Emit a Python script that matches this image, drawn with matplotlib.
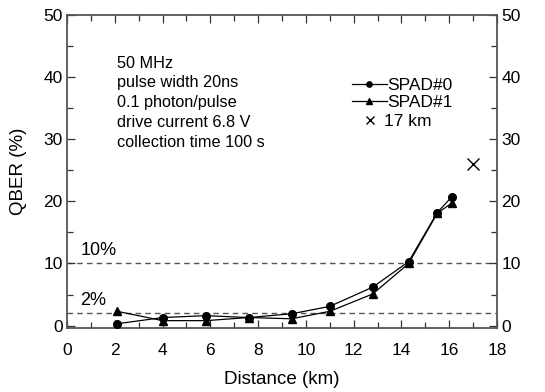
import matplotlib
matplotlib.use("Agg")
import matplotlib.pyplot as plt
from matplotlib.ticker import MultipleLocator

plt.rcParams['font.family'] = ['Liberation Sans', 'DejaVu Sans']

dist0 = [2.1, 4.0, 5.8, 7.6, 9.4, 11.0, 12.8, 14.3, 15.5, 16.1]
qber0 = [0.3, 1.3, 1.6, 1.3, 1.9, 3.1, 6.2, 10.3, 18.2, 20.7]
dist1 = [2.1, 4.0, 5.8, 7.6, 9.4, 11.0, 12.8, 14.3, 15.5, 16.1]
qber1 = [2.3, 0.8, 0.8, 1.3, 1.1, 2.3, 5.1, 10.0, 18.1, 19.7]
dist17 = [17.0]
qber17 = [26.0]
ref_levels = [10, 2]
ref_labels = ['10%', '2%']
info_lines = ['50 MHz', 'pulse width 20ns', '0.1 photon/pulse',
              'drive current 6.8 V', 'collection time 100 s']

fig = plt.figure(figsize=(5.45, 3.92), dpi=100)
ax = fig.add_axes([0.123, 0.163, 0.789, 0.799])

for lvl, lab in zip(ref_levels, ref_labels):
    ax.axhline(lvl, color='#555555', lw=1.0, ls=(0, (4, 3)), zorder=1)
    ax.text(0.55, lvl + 2.1, lab, fontsize=13, ha='left', va='center')

l0, = ax.plot(dist0, qber0, color='black', lw=0.9, marker='o', ms=5.5, label='SPAD#0', zorder=3)
l1, = ax.plot(dist1, qber1, color='black', lw=0.9, marker='^', ms=5.5, label='SPAD#1', zorder=3)
l2, = ax.plot(dist17, qber17, ls='none', color='black', marker='x', ms=8, mew=1.0, label='17 km', zorder=3)

ax.set_xlim(0, 18)
ax.set_ylim(-0.4, 50)
ax.xaxis.set_major_locator(MultipleLocator(2))
ax.xaxis.set_minor_locator(MultipleLocator(1))
ax.yaxis.set_major_locator(MultipleLocator(10))
ax.yaxis.set_minor_locator(MultipleLocator(5))
ax.tick_params(which='both', direction='in', top=True, right=True,
               labelright=True, labelsize=12.5, color='#333333')
ax.tick_params(axis='y', which='both', pad=3)
ax.tick_params(axis='x', which='both', pad=11)
ax.tick_params(which='major', length=6, width=0.9)
ax.tick_params(which='minor', length=4, width=0.9)
for s in ax.spines.values():
    s.set_color('#555555')
    s.set_linewidth(1.3)

ax.set_xlabel('Distance (km)', fontsize=13.5, labelpad=9)
ax.set_ylabel('QBER (%)', fontsize=13.5, labelpad=12)

ax.text(0.116, 0.87, '\n'.join(info_lines), transform=ax.transAxes,
        fontsize=11.7, va='top', ha='left', linespacing=1.4)

leg1 = ax.legend(handles=[l0, l1], loc='upper left', bbox_to_anchor=(0.663, 0.8),
                 frameon=False, fontsize=12.5, handlelength=2.0, handletextpad=0.0,
                 labelspacing=0.1, borderaxespad=0, borderpad=0, markerscale=0.7)
ax.add_artist(leg1)
leg2 = ax.legend(handles=[l2], loc='upper left', bbox_to_anchor=(0.685, 0.683),
                 frameon=False, fontsize=12.5, handlelength=1.0, handletextpad=0.3,
                 borderaxespad=0, borderpad=0, markerscale=0.8)

fig.savefig('out.png', dpi=100)
